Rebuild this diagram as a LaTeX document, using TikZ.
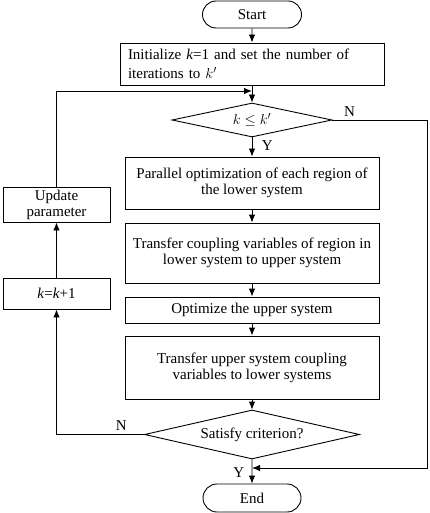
\documentclass[tikz,border=0pt]{standalone}
\usepackage{fontspec}
\setmainfont{Liberation Serif}
\usetikzlibrary{shapes.geometric,shapes.misc,arrows.meta}

\begin{document}
\begin{tikzpicture}[x=1pt, y=-1pt,
  every node/.style={font=\fontsize{15}{16}\selectfont, align=center},
  box/.style={draw, rectangle, line width=0.9pt, inner sep=2pt, minimum width=254pt},
  sidebox/.style={draw, rectangle, line width=0.9pt, inner sep=2pt, minimum width=107pt},
  term/.style={draw, rounded rectangle, line width=0.9pt, inner sep=0pt, minimum width=99pt, minimum height=27pt},
  decide/.style={draw, diamond, line width=0.9pt, inner sep=0pt, aspect=4.5},
  flow/.style={line width=0.9pt, -{Latex[length=8pt,width=6.5pt]}},
  link/.style={line width=0.9pt}
]
\useasboundingbox (0,0) rectangle (429,513);

\node[term] (start) at (252,14.5) {Start};
\node[box, font=\fontsize{15}{19}\selectfont, text width=248pt, inner xsep=8pt, align=left, minimum width=0pt, minimum height=42pt] (init) at (252,64)
  {Initialize \textit{k}=1 and set the number of\\iterations to $k'$};
\node[decide, minimum width=160pt, minimum height=34pt] (cond1) at (252,120) {$k \le k'$};

\node[box, minimum height=52pt] (parallel) at (252,183) {Parallel optimization of each region of\\the lower system};
\node[box, minimum height=60pt] (transUp) at (252,253) {Transfer coupling variables of region in\\lower system to upper system};
\node[box, minimum height=26pt] (optUp) at (252,310) {Optimize the upper system};
\node[box, minimum height=63pt] (transDown) at (252,367.5) {Transfer upper system coupling\\variables to lower systems};

\node[decide, minimum width=215pt, minimum height=49pt] (cond2) at (252,434.5) {Satisfy criterion?};
\node[term, minimum width=98pt, minimum height=28pt] (finish) at (252,498) {End};

\node[sidebox, minimum height=35pt] (upd) at (56.5,204.5) {Update\\parameter};
\node[sidebox, minimum height=31pt] (incr) at (56.5,293.5) {\textit{k}=\textit{k}+1};

\coordinate (merge) at (252,91);
\coordinate (rgt) at (427,0);
\coordinate (join) at (252,468);

\draw[flow] (start) -- (init);
\draw[flow] (init) -- (cond1);
\draw[flow] (cond1) -- node[pos=0.45, right=6pt] {Y} (parallel);
\draw[flow] (parallel) -- (transUp);
\draw[flow] (transUp) -- (optUp);
\draw[flow] (optUp) -- (transDown);
\draw[flow] (transDown) -- (cond2);
\draw[flow] (cond2) -- node[pos=0.55, left=4pt] {Y} (finish);

\draw[flow] (cond1.east) -- node[pos=0.18, above] {N} (cond1.east -| rgt) |- (join);
\draw[flow] (cond2.west) -- node[pos=0.26, above] {N} (cond2.west -| incr) -- (incr.south);
\draw[flow] (incr) -- (upd);
\draw[flow] (upd.north) |- (merge);
\end{tikzpicture}
\end{document}
